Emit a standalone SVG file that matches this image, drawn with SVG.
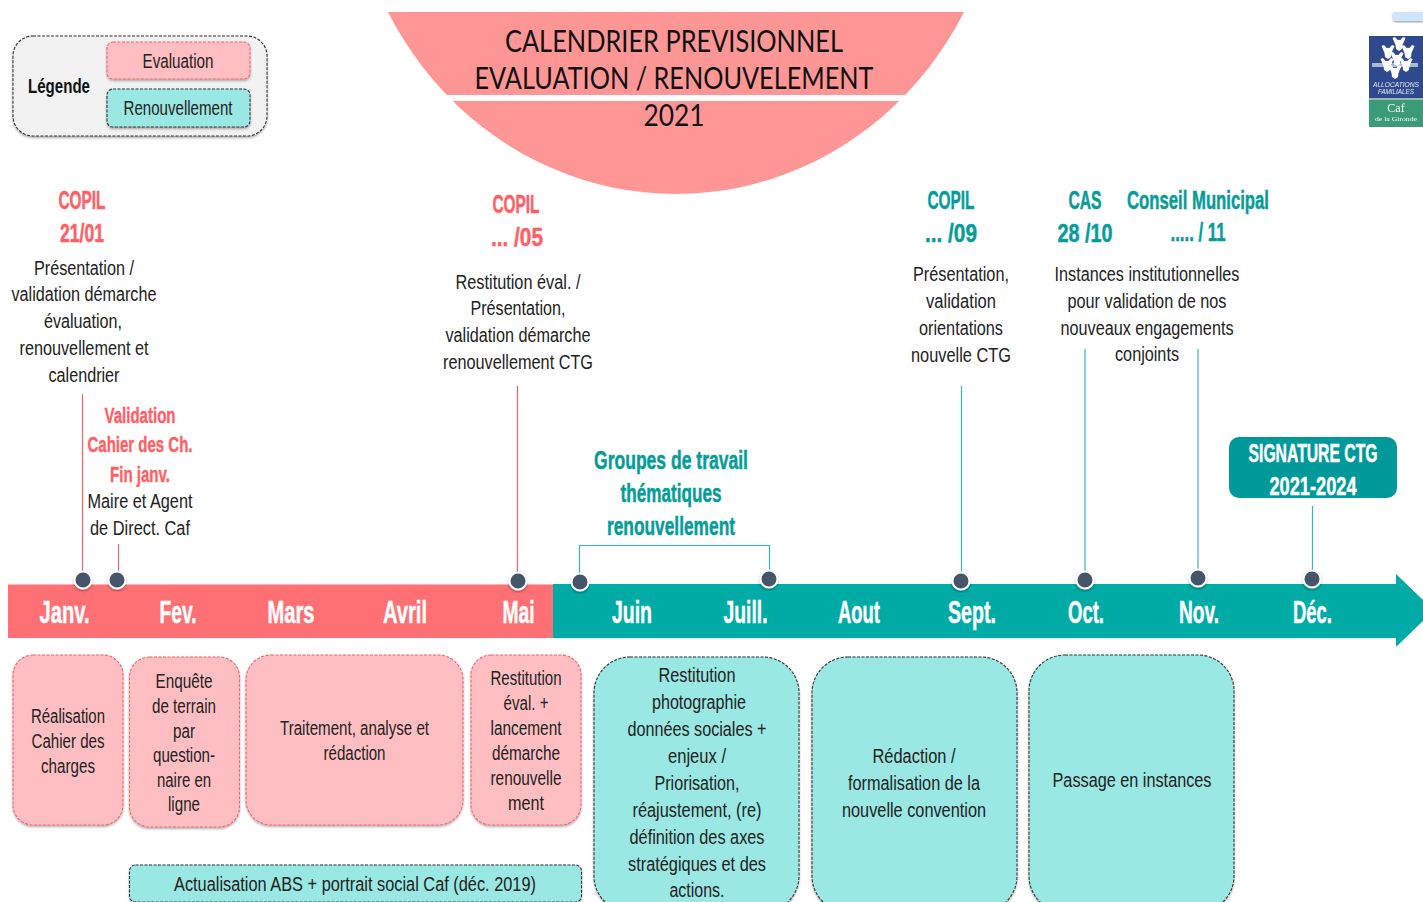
<svg xmlns="http://www.w3.org/2000/svg" width="1423" height="902" viewBox="0 0 1423 902">
<style>
text{font-family:"Liberation Sans",Arial,sans-serif;text-anchor:middle}
.b{font-size:20px;fill:#222}
.h{font-size:26px;font-weight:bold;stroke-width:.5}
.r{fill:#FF5F66;stroke:#FF5F66}
.t{fill:#079C98;stroke:#079C98}
.m{font-size:32px;font-weight:bold;fill:#fff;stroke:#fff;stroke-width:.5}
.ti{font-size:30.500px;fill:#111;font-family:Lato,"Liberation Sans",sans-serif}
.p{fill:#FFBFC2;stroke:#F4636B;stroke-width:1.100;stroke-dasharray:3 1.500;filter:url(#s)}
.q{fill:#99E8E3;stroke:#333;stroke-width:1.100;stroke-dasharray:3 1.500;filter:url(#s)}
.d{fill:#44546A;stroke:#fff;stroke-width:2;filter:url(#s)}
.cr{stroke:#F4636B;stroke-width:1.200;fill:none}
.ct{stroke:#3FB3B3;stroke-width:1.200;fill:none}
.sg{font-size:26px;font-weight:bold;fill:#fff;stroke:#fff;stroke-width:.5}
</style>
<defs>
<filter id="s" x="-20%" y="-20%" width="140%" height="140%"><feDropShadow dx="0" dy="1.500" stdDeviation="1.200" flood-color="#000" flood-opacity=".35"/></filter>
<filter id="bl" x="-5%" y="-5%" width="110%" height="110%"><feGaussianBlur stdDeviation=".35"/></filter>
<clipPath id="tc"><rect x="300" y="12" width="760" height="200"/></clipPath>
<g id="fig"><circle cx="0" cy="-2" r="2.300"/><path d="M-6.500-6L-4-7L-.5-3H.5L4-7L6.500-6L3.500 1L3 5L0 7L-3 5L-3.500 1Z"/></g>
</defs>
<rect width="1423" height="902" fill="#fff"/>

<g id="title">
<ellipse cx="676" cy="-150" rx="326.500" ry="344" fill="#FF9696" clip-path="url(#tc)"/>
<rect x="400" y="95" width="560" height="6" fill="#fff"/>
<text class="ti" x="674" y="52" textLength="338" lengthAdjust="spacingAndGlyphs">CALENDRIER PREVISIONNEL</text>
<text class="ti" x="674" y="89" textLength="399" lengthAdjust="spacingAndGlyphs">EVALUATION / RENOUVELEMENT</text>
<text class="ti" x="674" y="126" textLength="61" lengthAdjust="spacingAndGlyphs">2021</text>
</g>

<g id="legende">
<rect x="13" y="36" width="254" height="100" rx="20" fill="#F2F2F2" stroke="#333" stroke-width="1.100" stroke-dasharray="3 1.500" filter="url(#s)"/>
<text x="59" y="93" font-size="20" font-weight="bold" fill="#111" textLength="62" lengthAdjust="spacingAndGlyphs">Légende</text>
<rect class="p" x="107" y="42" width="143" height="37" rx="6"/>
<text class="b" x="178" y="68" textLength="71" lengthAdjust="spacingAndGlyphs">Evaluation</text>
<rect class="q" x="107" y="89" width="143" height="38" rx="6"/>
<text class="b" x="178" y="115" textLength="109" lengthAdjust="spacingAndGlyphs">Renouvellement</text>
</g>

<g id="logo">
<path d="M1393 12H1423V21H1397Q1393 21 1393 17Z" fill="#CFE5FB" filter="url(#s)"/>
<g filter="url(#bl)">
<rect x="1369" y="36" width="54" height="62" fill="#2E4A8E"/>
<rect x="1369" y="98" width="54" height="2" fill="#9DB8B0"/>
<rect x="1369" y="100" width="54" height="27" fill="#3A9B78"/>
<rect x="1372" y="63" width="46" height="4" fill="#A9B7D2"/>
<g fill="#fff">
<use href="#fig" x="1399" y="44"/><use href="#fig" x="1388" y="52"/><use href="#fig" x="1408" y="52"/><use href="#fig" x="1397" y="59"/><use href="#fig" x="1387" y="65"/><use href="#fig" x="1406" y="65"/><use href="#fig" x="1395" y="72"/>
</g>
<text x="1396" y="87" font-size="6.500" font-style="italic" fill="#E6ECF5" textLength="46" lengthAdjust="spacingAndGlyphs">ALLOCATIONS</text>
<text x="1396" y="94" font-size="6.500" font-style="italic" fill="#E6ECF5" textLength="36" lengthAdjust="spacingAndGlyphs">FAMILIALES</text>
<text x="1396" y="112" font-size="12" fill="#fff" style="font-family:'Liberation Serif',serif">Caf</text>
<text x="1396" y="121" font-size="7" fill="#fff" style="font-family:'Liberation Serif',serif" textLength="42" lengthAdjust="spacingAndGlyphs">de la Gironde</text>
</g>
</g>

<g id="connectors">
<path class="cr" d="M82.500 394V572M118.500 544V572M517.500 386V572"/>
<path class="ct" d="M579.500 575V545.500H769.500V572M961.500 386V573M1085 349V572M1198 349V570M1312.500 506V571"/>
</g>

<g id="frise">
<rect x="8" y="584.500" width="545" height="53.500" fill="#FF7074"/>
<polygon points="553,584 1396,584 1396,574 1434,610.500 1396,647 1396,638 553,638" fill="#00ABA5"/>
<text class="m" x="64.500" y="623" textLength="50" lengthAdjust="spacingAndGlyphs">Janv.</text>
<text class="m" x="178" y="623" textLength="37" lengthAdjust="spacingAndGlyphs">Fev.</text>
<text class="m" x="291" y="623" textLength="47" lengthAdjust="spacingAndGlyphs">Mars</text>
<text class="m" x="405" y="623" textLength="44" lengthAdjust="spacingAndGlyphs">Avril</text>
<text class="m" x="518.500" y="623" textLength="32" lengthAdjust="spacingAndGlyphs">Mai</text>
<text class="m" x="632" y="623" textLength="40" lengthAdjust="spacingAndGlyphs">Juin</text>
<text class="m" x="745.500" y="623" textLength="44" lengthAdjust="spacingAndGlyphs">Juill.</text>
<text class="m" x="859" y="623" textLength="42" lengthAdjust="spacingAndGlyphs">Aout</text>
<text class="m" x="972" y="623" textLength="48" lengthAdjust="spacingAndGlyphs">Sept.</text>
<text class="m" x="1086" y="623" textLength="36" lengthAdjust="spacingAndGlyphs">Oct.</text>
<text class="m" x="1199" y="623" textLength="40" lengthAdjust="spacingAndGlyphs">Nov.</text>
<text class="m" x="1312.500" y="623" textLength="39" lengthAdjust="spacingAndGlyphs">Déc.</text>
<circle class="d" cx="83" cy="580" r="8.500"/><circle class="d" cx="117" cy="580" r="8.500"/><circle class="d" cx="518" cy="581" r="8.500"/><circle class="d" cx="580" cy="582" r="8.500"/><circle class="d" cx="769" cy="579" r="8.500"/><circle class="d" cx="961" cy="581" r="8.500"/><circle class="d" cx="1085" cy="580" r="8.500"/><circle class="d" cx="1198" cy="578" r="8.500"/><circle class="d" cx="1312" cy="579" r="8.500"/>
</g>

<g id="copil-janv">
<text class="h r" x="82" y="209" textLength="47" lengthAdjust="spacingAndGlyphs">COPIL</text>
<text class="h r" x="82" y="242" textLength="44" lengthAdjust="spacingAndGlyphs">21/01</text>
<text class="b" x="84" y="275" textLength="100" lengthAdjust="spacingAndGlyphs">Présentation /</text>
<text class="b" x="84" y="301" textLength="145" lengthAdjust="spacingAndGlyphs">validation démarche</text>
<text class="b" x="83" y="328" textLength="78" lengthAdjust="spacingAndGlyphs">évaluation,</text>
<text class="b" x="84" y="355" textLength="129" lengthAdjust="spacingAndGlyphs">renouvellement et</text>
<text class="b" x="84" y="382" textLength="71" lengthAdjust="spacingAndGlyphs">calendrier</text>
</g>
<g id="validation">
<text class="r" x="140" y="423" font-size="22" font-weight="bold" stroke-width=".4" textLength="71" lengthAdjust="spacingAndGlyphs">Validation</text>
<text class="r" x="140" y="452" font-size="22" font-weight="bold" stroke-width=".4" textLength="105" lengthAdjust="spacingAndGlyphs">Cahier des Ch.</text>
<text class="r" x="140" y="482" font-size="22" font-weight="bold" stroke-width=".4" textLength="60" lengthAdjust="spacingAndGlyphs">Fin janv.</text>
<text class="b" x="140" y="508" textLength="105" lengthAdjust="spacingAndGlyphs">Maire et Agent</text>
<text class="b" x="140" y="535" textLength="100" lengthAdjust="spacingAndGlyphs">de Direct. Caf</text>
</g>
<g id="copil-mai">
<text class="h r" x="516" y="213" textLength="47" lengthAdjust="spacingAndGlyphs">COPIL</text>
<text class="h r" x="517" y="246" textLength="52" lengthAdjust="spacingAndGlyphs">... /05</text>
<text class="b" x="518" y="289" textLength="125" lengthAdjust="spacingAndGlyphs">Restitution éval. /</text>
<text class="b" x="518" y="315" textLength="95" lengthAdjust="spacingAndGlyphs">Présentation,</text>
<text class="b" x="518" y="342" textLength="145" lengthAdjust="spacingAndGlyphs">validation démarche</text>
<text class="b" x="518" y="369" textLength="150" lengthAdjust="spacingAndGlyphs">renouvellement CTG</text>
</g>
<g id="groupes">
<text class="h t" x="671" y="469" textLength="154" lengthAdjust="spacingAndGlyphs">Groupes de travail</text>
<text class="h t" x="671" y="502" textLength="101" lengthAdjust="spacingAndGlyphs">thématiques</text>
<text class="h t" x="671" y="535" textLength="128" lengthAdjust="spacingAndGlyphs">renouvellement</text>
</g>
<g id="copil-sept">
<text class="h t" x="951" y="209" textLength="47" lengthAdjust="spacingAndGlyphs">COPIL</text>
<text class="h t" x="951" y="242" textLength="52" lengthAdjust="spacingAndGlyphs">... /09</text>
<text class="b" x="961" y="281" textLength="96" lengthAdjust="spacingAndGlyphs">Présentation,</text>
<text class="b" x="961" y="308" textLength="70" lengthAdjust="spacingAndGlyphs">validation</text>
<text class="b" x="961" y="335" textLength="84" lengthAdjust="spacingAndGlyphs">orientations</text>
<text class="b" x="961" y="362" textLength="100" lengthAdjust="spacingAndGlyphs">nouvelle CTG</text>
</g>
<g id="cas">
<text class="h t" x="1085" y="209" textLength="33" lengthAdjust="spacingAndGlyphs">CAS</text>
<text class="h t" x="1085" y="242" textLength="55" lengthAdjust="spacingAndGlyphs">28 /10</text>
</g>
<g id="conseil">
<text class="h t" x="1198" y="209" textLength="142" lengthAdjust="spacingAndGlyphs">Conseil Municipal</text>
<text class="h t" x="1198" y="241" textLength="55" lengthAdjust="spacingAndGlyphs">..... / 11</text>
</g>
<g id="instances">
<text class="b" x="1147" y="281" textLength="185" lengthAdjust="spacingAndGlyphs">Instances institutionnelles</text>
<text class="b" x="1147" y="308" textLength="159" lengthAdjust="spacingAndGlyphs">pour validation de nos</text>
<text class="b" x="1147" y="335" textLength="173" lengthAdjust="spacingAndGlyphs">nouveaux engagements</text>
<text class="b" x="1147" y="361" textLength="64" lengthAdjust="spacingAndGlyphs">conjoints</text>
</g>
<g id="signature">
<rect x="1229" y="437" width="168" height="61" rx="10" fill="#009999"/>
<text class="sg" transform="translate(1313 462) scale(.605 1)">SIGNATURE CTG</text>
<text class="sg" transform="translate(1313 495) scale(.7 1)">2021-2024</text>
</g>

<g id="box-realisation">
<rect class="p" x="13" y="655" width="110" height="170" rx="20"/>
<text class="b" x="68" y="723" textLength="74" lengthAdjust="spacingAndGlyphs">Réalisation</text>
<text class="b" x="68" y="748" textLength="73" lengthAdjust="spacingAndGlyphs">Cahier des</text>
<text class="b" x="68" y="773" textLength="54" lengthAdjust="spacingAndGlyphs">charges</text>
</g>
<g id="box-enquete">
<rect class="p" x="129.500" y="657" width="110" height="170" rx="20"/>
<text class="b" x="184" y="688" textLength="57" lengthAdjust="spacingAndGlyphs">Enquête</text>
<text class="b" x="184" y="713" textLength="64" lengthAdjust="spacingAndGlyphs">de terrain</text>
<text class="b" x="184" y="738" textLength="22" lengthAdjust="spacingAndGlyphs">par</text>
<text class="b" x="184" y="762" textLength="62" lengthAdjust="spacingAndGlyphs">question-</text>
<text class="b" x="184" y="787" textLength="54" lengthAdjust="spacingAndGlyphs">naire en</text>
<text class="b" x="184" y="811" textLength="32" lengthAdjust="spacingAndGlyphs">ligne</text>
</g>
<g id="box-traitement">
<rect class="p" x="246" y="655" width="217" height="170" rx="25"/>
<text class="b" x="354.500" y="735" textLength="149" lengthAdjust="spacingAndGlyphs">Traitement, analyse et</text>
<text class="b" x="354.500" y="760" textLength="62" lengthAdjust="spacingAndGlyphs">rédaction</text>
</g>
<g id="box-restitution-mai">
<rect class="p" x="471" y="655" width="110" height="170" rx="20"/>
<text class="b" x="526" y="685" textLength="71" lengthAdjust="spacingAndGlyphs">Restitution</text>
<text class="b" x="526" y="710" textLength="45" lengthAdjust="spacingAndGlyphs">éval. +</text>
<text class="b" x="526" y="735" textLength="71" lengthAdjust="spacingAndGlyphs">lancement</text>
<text class="b" x="526" y="760" textLength="68" lengthAdjust="spacingAndGlyphs">démarche</text>
<text class="b" x="526" y="785" textLength="71" lengthAdjust="spacingAndGlyphs">renouvelle</text>
<text class="b" x="526" y="810" textLength="36" lengthAdjust="spacingAndGlyphs">ment</text>
</g>
<g id="box-abs">
<rect class="q" x="129.500" y="865" width="452" height="37" rx="6"/>
<text class="b" x="355" y="891" textLength="362" lengthAdjust="spacingAndGlyphs">Actualisation ABS + portrait social Caf (déc. 2019)</text>
</g>
<g id="box-restitution-juin">
<rect class="q" x="594" y="657" width="205" height="255" rx="36"/>
<text class="b" x="697" y="682" textLength="77" lengthAdjust="spacingAndGlyphs">Restitution</text>
<text class="b" x="699" y="709" textLength="94" lengthAdjust="spacingAndGlyphs">photographie</text>
<text class="b" x="697" y="736" textLength="139" lengthAdjust="spacingAndGlyphs">données sociales +</text>
<text class="b" x="697" y="763" textLength="58" lengthAdjust="spacingAndGlyphs">enjeux /</text>
<text class="b" x="697" y="790" textLength="85" lengthAdjust="spacingAndGlyphs">Priorisation,</text>
<text class="b" x="697" y="817" textLength="129" lengthAdjust="spacingAndGlyphs">réajustement, (re)</text>
<text class="b" x="697" y="844" textLength="135" lengthAdjust="spacingAndGlyphs">définition des axes</text>
<text class="b" x="697" y="871" textLength="138" lengthAdjust="spacingAndGlyphs">stratégiques et des</text>
<text class="b" x="697" y="897" textLength="55" lengthAdjust="spacingAndGlyphs">actions.</text>
</g>
<g id="box-redaction">
<rect class="q" x="812" y="657" width="205" height="255" rx="36"/>
<text class="b" x="914" y="763" textLength="83" lengthAdjust="spacingAndGlyphs">Rédaction /</text>
<text class="b" x="914" y="790" textLength="132" lengthAdjust="spacingAndGlyphs">formalisation de la</text>
<text class="b" x="914" y="817" textLength="144" lengthAdjust="spacingAndGlyphs">nouvelle convention</text>
</g>
<g id="box-instances">
<rect class="q" x="1029" y="655" width="205" height="257" rx="36"/>
<text class="b" x="1132" y="787" textLength="159" lengthAdjust="spacingAndGlyphs">Passage en instances</text>
</g>
</svg>
